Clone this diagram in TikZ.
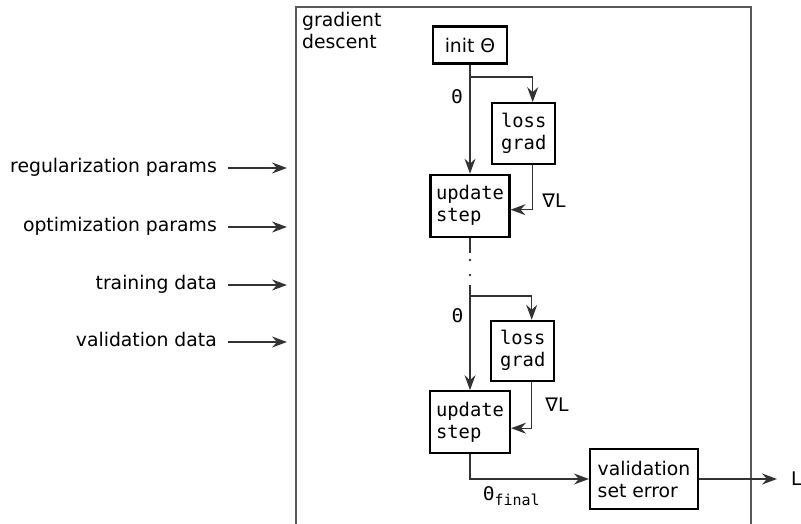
\documentclass[tikz,border=0pt]{standalone}
\usepackage{fontspec}
\setmainfont{DejaVu Sans}
\setmonofont{DejaVu Sans Mono}
\usetikzlibrary{arrows.meta,calc}
\tikzset{
	every node/.style={font=\fontsize{18.8pt}{22pt}\selectfont},
	mono/.style={font=\fontsize{18.8pt}{22pt}\selectfont\ttfamily},
	box/.style={draw, line width=2.1pt, align=left, inner sep=0pt},
	lbl/.style={inner sep=0pt},
	inp/.style={inner sep=0pt, anchor=east, text height=14pt, text depth=4.5pt},
	wire/.style={draw=black!80, line width=1.3pt},
	arr/.style={wire, -{Stealth[length=15pt,width=11pt,inset=5pt]}},
	frame/.style={draw=black!65, line width=1.8pt},
}

\begin{document}
\begin{tikzpicture}[x=1pt,y=-1pt]
			%%%%% START %%%%%
			\useasboundingbox (0,0) rectangle (801,524);
			
			% outer box, open at the bottom
			\coordinate (tl) at (296,7);
			\coordinate (tr) at (751,7);
			\draw[frame] (296,524) -- (tl) -- (tr) -- (751,524);
			\node[lbl, align=left, anchor=north west] (gd) at (302,12) {gradient\\descent};
			
			% inputs
			\node[inp] (reg) at (217,168) {regularization params};
			\node[inp] (opt) at (217,227) {optimization params};
			\node[inp] (trn) at (217,285) {training data};
			\node[inp] (vld) at (217,342) {validation data};
			\foreach \n in {reg,opt,trn,vld}
				\draw[arr, shorten <=11pt, shorten >=9pt] (\n.east) -- (\n.east -| tl);
			
			% first step
			\node[box, minimum width=74pt, minimum height=37pt] (init) at (470,45) {init Θ};
			\node[box, mono, minimum width=63pt, minimum height=61pt] (grad1) at (523.7,133.7) {loss\\grad};
			\node[box, mono, minimum width=79pt, minimum height=62pt] (upd1) at (470,205.7) {update\\step};
			\coordinate (b1) at (470,77);
			\draw[arr] (init) -- (upd1);
			\draw[arr] (b1) -| ([xshift=9pt]grad1.north);
			\draw[arr] ([xshift=9pt]grad1.south) |- ([yshift=-4pt]upd1.east);
			\node[lbl, mono] (th1) at (457,97) {Θ};
			\node[lbl] (dl1) at (554,201) {∇L};
			
			% dots
			\coordinate (d1) at (470,253);
			\coordinate (d2) at (470,285);
			\draw[wire] (upd1) -- (d1);
			\fill[black!80] (470,260) circle (1.3) (470,275) circle (1.3);
			
			% last step
			\node[box, mono, minimum width=63pt, minimum height=60pt] (grad2) at (522.7,350.8) {loss\\grad};
			\node[box, mono, minimum width=80pt, minimum height=62pt] (upd2) at (470,422.2) {update\\step};
			\coordinate (b2) at (470,296);
			\draw[arr] (d2) -- (upd2);
			\draw[arr] (b2) -| ([xshift=9pt]grad2.north);
			\draw[arr] ([xshift=9pt]grad2.south) |- ([yshift=-6pt]upd2.east);
			\node[lbl, mono] (th2) at (457.5,316) {Θ};
			\node[lbl] (dl2) at (557,405) {∇L};
			
			% validation
			\node[box, minimum width=108pt, minimum height=60pt] (val) at (644,479) {validation\\set error};
			\draw[arr] (upd2) |- (val);
			\node[lbl, mono, anchor=base west] (thf) at (483,500) {Θ\raisebox{-5pt}{\fontsize{15pt}{15pt}\selectfont final}};
			\node[lbl, anchor=west] (out) at (791,479) {L};
			\draw[arr, shorten >=14pt] (val) -- (out);
			
			%%%%% END %%%%%
\end{tikzpicture}
\end{document}
